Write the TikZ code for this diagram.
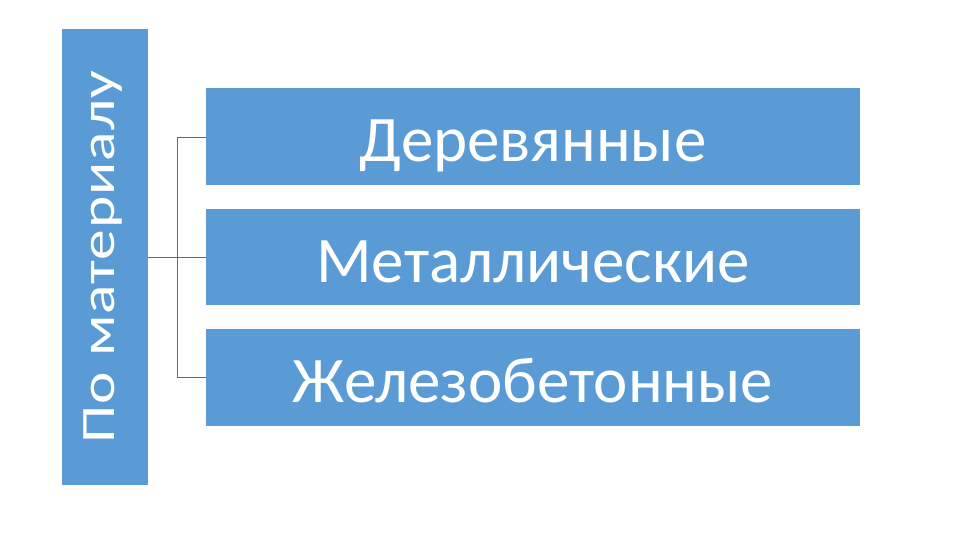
\documentclass[tikz,border=0pt]{standalone}
\usepackage{fontspec}
\setmainfont{Carlito}
\definecolor{boxblue}{HTML}{5B9BD5}
\definecolor{linkblue}{HTML}{41719C}
\begin{document}
\begin{tikzpicture}[x=1pt,y=-1pt,
  bluebox/.style={fill=boxblue,draw=none},
  link/.style={draw=linkblue,line width=0.8pt},
  boxtext/.style={text=white,font=\fontsize{65}{70}\selectfont,anchor=base},
  sidetext/.style={text=white,font=\fontsize{48}{52}\selectfont\addfontfeature{LetterSpace=1.5},anchor=base,rotate=90}]
\useasboundingbox[fill=white] (0,0) rectangle (960,540);
\fill[bluebox] (62,29) rectangle (148,485);
\coordinate (L) at (148,257);
\node[sidetext] (side) at (114,257) {\scalebox{1.28}[1]{По материалу}};
\fill[bluebox] (206,88) rectangle (860,185);
\fill[bluebox] (206,209) rectangle (860,305);
\fill[bluebox] (206,329) rectangle (860,426);
\coordinate (A) at (206,137);
\coordinate (B) at (206,257);
\coordinate (C) at (206,377);
\node[boxtext] (t1) at (533,161) {Деревянные};
\node[boxtext] (t2) at (533,282) {Металлические};
\node[boxtext] (t3) at (533,402) {Железобетонные};
\draw[link] (L) -- (B);
\draw[link] (A) -- (177,137) -- (177,377) -- (C);
\end{tikzpicture}
\end{document}
